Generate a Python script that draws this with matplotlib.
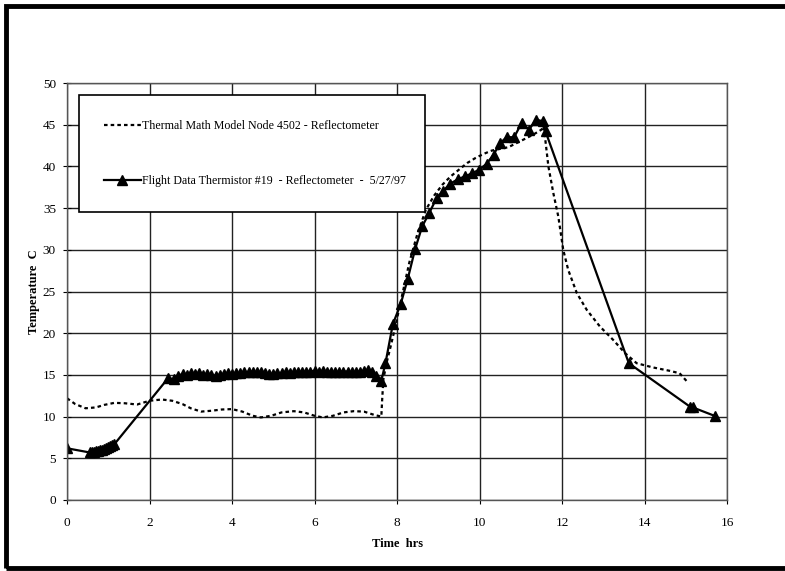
import numpy as np
import matplotlib
matplotlib.use("Agg")
from matplotlib import pyplot as plt
from matplotlib.patches import Rectangle

# thermal math model node 4502 (dotted)
model_t = [0.0, 0.2, 0.45, 0.7, 0.9, 1.15, 1.4, 1.7, 2.0, 2.3, 2.55, 2.8, 3.0, 3.25,
           3.5, 3.75, 4.0, 4.25, 4.5, 4.7, 4.95, 5.2, 5.5, 5.75, 6.0, 6.2, 6.45,
           6.7, 6.95, 7.2, 7.45, 7.62, 7.64, 7.67, 7.75, 7.85, 7.95, 8.1, 8.3, 8.5,
           8.7, 8.9, 9.1, 9.3, 9.5, 9.7, 9.9, 10.1, 10.3, 10.5, 10.7, 10.9, 11.1,
           11.3, 11.5, 11.55, 11.6, 11.67, 11.79, 11.91, 12.03, 12.15, 12.36, 12.6,
           12.92, 13.24, 13.53, 13.81, 14.2, 14.6, 14.85, 15.05]
model_T = [12.2, 11.5, 11.0, 11.1, 11.4, 11.65, 11.6, 11.45, 11.9, 12.05, 11.9, 11.5, 11.0, 10.6,
           10.7, 10.85, 10.9, 10.6, 10.1, 9.9, 10.1, 10.5, 10.65, 10.5, 10.1, 9.9, 10.1,
           10.5, 10.65, 10.6, 10.2, 10.0, 12.0, 14.5, 16.5, 18.5, 20.6, 24.0, 28.5, 32.0,
           34.8, 36.5, 37.8, 38.8, 39.6, 40.4, 41.0, 41.5, 41.9, 42.1, 42.3, 42.8, 43.3,
           43.8, 44.4, 44.8, 43.0, 40.0, 36.8, 34.0, 30.0, 27.6, 24.8, 22.8,
           20.8, 19.2, 17.6, 16.4, 15.9, 15.5, 15.2, 14.1]

# flight data thermistor #19 (triangles)
flight_t = [0.0, 0.55, 0.6, 0.65, 0.7, 0.75, 0.8, 0.85, 0.9, 0.95, 1.0, 1.05, 1.1, 1.15,
            2.45, 2.6, 2.7, 2.8, 2.9, 3.0, 3.1, 3.2, 3.3, 3.4, 3.5, 3.6, 3.7, 3.8, 3.9,
            4.0, 4.1, 4.2, 4.3, 4.4, 4.5, 4.6, 4.7, 4.8, 4.9, 5.0, 5.1, 5.2, 5.3, 5.4,
            5.5, 5.6, 5.7, 5.8, 5.9, 6.0, 6.1, 6.2, 6.3, 6.4, 6.5, 6.6, 6.7, 6.8, 6.9,
            7.0, 7.1, 7.2, 7.3, 7.4, 7.5, 7.62, 7.72, 7.9, 8.09, 8.26, 8.44, 8.61, 8.78,
            8.96, 9.12, 9.28, 9.49, 9.65, 9.83, 9.99, 10.17, 10.34, 10.5, 10.66, 10.84,
            11.02, 11.2, 11.37, 11.55, 11.6, 13.62, 15.1, 15.17, 15.71]
flight_T = [6.2, 5.7, 5.75, 5.8, 5.85, 5.9, 6.0, 6.05, 6.15, 6.25, 6.35, 6.45, 6.55, 6.7,
            14.6, 14.5, 14.9, 15.1, 15.0, 15.2, 15.1, 15.2, 15.0, 15.1, 15.0, 14.9, 15.0, 15.1, 15.2,
            15.1, 15.2, 15.2, 15.3, 15.3, 15.4, 15.3, 15.3, 15.2, 15.1, 15.1, 15.2, 15.2, 15.3, 15.2,
            15.3, 15.3, 15.4, 15.4, 15.4, 15.5, 15.4, 15.5, 15.4, 15.4, 15.3, 15.4, 15.4, 15.4, 15.3,
            15.4, 15.4, 15.5, 15.6, 15.4, 14.9, 14.3, 16.4, 21.1, 23.5, 26.5, 30.1, 32.8, 34.4,
            36.2, 37.05, 37.9, 38.5, 38.8, 39.2, 39.6, 40.3, 41.4, 42.8, 43.5, 43.5,
            45.2, 44.4, 45.6, 45.4, 44.2, 16.4, 11.2, 11.1, 10.07]

x_ticks = [0, 2, 4, 6, 8, 10, 12, 14, 16]
y_ticks = [0, 5, 10, 15, 20, 25, 30, 35, 40, 45, 50]

plt.rcParams['font.family'] = ['Liberation Serif', 'DejaVu Serif']

fig = plt.figure(figsize=(7.85, 5.71), dpi=100)
ax = fig.add_axes([67/785, 1-500/571, 660/785, 417/571])

ax.plot(model_t, model_T, color='black', lw=1.6, linestyle=(0, (1.6, 1.4)),
        label='Thermal Math Model Node 4502 - Reflectometer')
ax.plot(flight_t, flight_T, color='black', lw=1.6, marker='^', markersize=7,
        label='Flight Data Thermistor #19  - Reflectometer  -  5/27/97')

ax.set_xlim(0, 16)
ax.set_ylim(0, 50)
ax.set_xticks(x_ticks)
ax.set_yticks(y_ticks)
ax.grid(True, color='#222222', lw=1.0)
ax.set_axisbelow(True)
for s in ax.spines.values():
    s.set_color('#555555')
    s.set_linewidth(1.0)
ax.tick_params(axis='x', direction='out', length=3, pad=9, labelsize=9.5)
ax.tick_params(axis='y', direction='inout', length=6, pad=5, labelsize=9.5)

ax.set_xlabel('Time  hrs', fontsize=9, fontweight='bold', labelpad=7)
ax.set_ylabel('Temperature  C', fontsize=9, fontweight='bold', labelpad=2)

leg = ax.legend(loc='upper left', bbox_to_anchor=(0.018, 0.70, 0.524, 0.271),
                mode='expand', borderaxespad=0, fancybox=False, framealpha=1,
                edgecolor='black', fontsize=8.6, borderpad=2.1, labelspacing=3.6,
                handlelength=3.1, handletextpad=0.05)
leg.get_frame().set_linewidth(1.2)

# outer black frame
fig.patches.append(Rectangle((6/785, 3/571), 1.2, 1 - 9/571, transform=fig.transFigure,
                             fill=False, edgecolor='black', lw=3.5, clip_on=False))

fig.savefig('out.png', dpi=100)
